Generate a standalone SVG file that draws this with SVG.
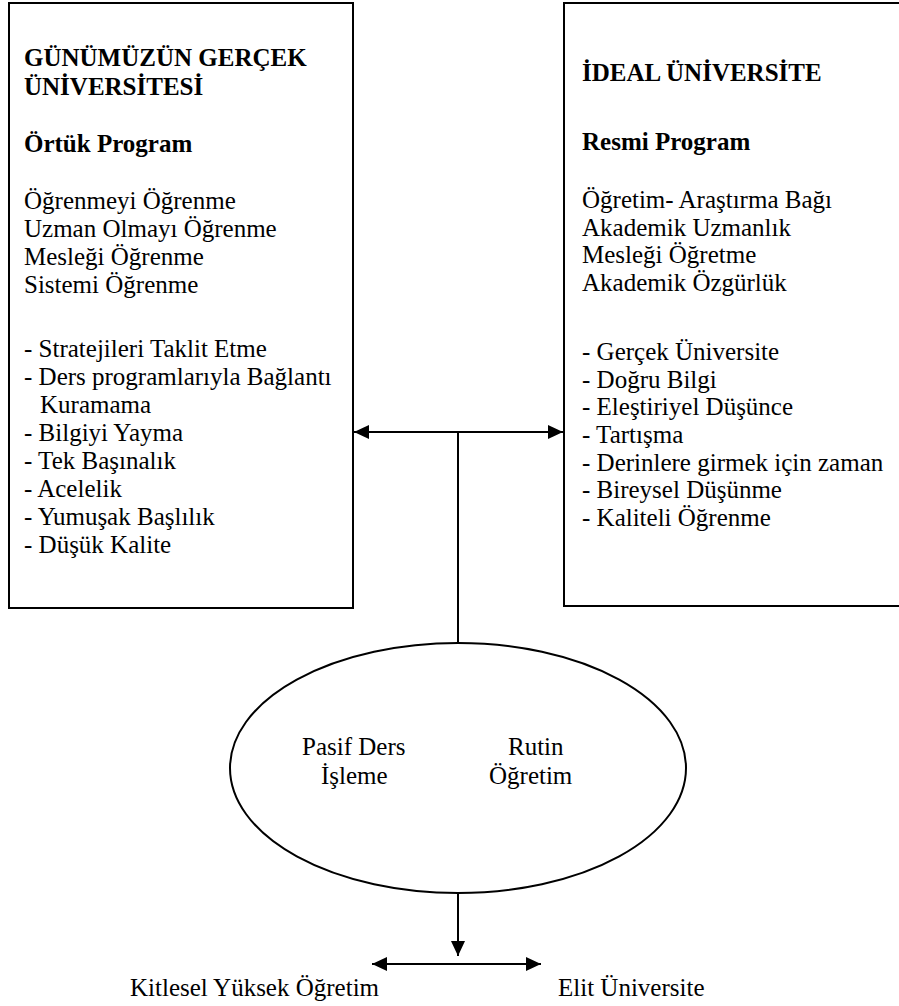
<svg xmlns="http://www.w3.org/2000/svg" width="899" height="1006" viewBox="0 0 899 1006">
<defs>
<style>
.t{font-family:"Liberation Serif","Times New Roman",serif;font-size:25px;fill:#000}
.b{font-weight:bold}
.box{fill:#fff;stroke:#000;stroke-width:2}
.ln{fill:none;stroke:#000;stroke-width:2}
</style>
<marker id="ah" markerUnits="userSpaceOnUse" markerWidth="16" markerHeight="14" refX="15" refY="7" orient="auto-start-reverse">
<path d="M0,0 L15,7 L0,14 z" fill="#000"/>
</marker>
</defs>
<rect width="899" height="1006" fill="#fff"/>
<g id="real-university">
<rect class="box" x="9" y="3" width="344" height="605"/>
<text class="t b" x="24" y="66">GÜNÜMÜZÜN GERÇEK</text>
<text class="t b" x="24" y="95">ÜNİVERSİTESİ</text>
<text class="t b" x="24" y="152">Örtük Program</text>
<text class="t" x="24" y="209">Öğrenmeyi Öğrenme</text>
<text class="t" x="24" y="237">Uzman Olmayı Öğrenme</text>
<text class="t" x="24" y="265">Mesleği Öğrenme</text>
<text class="t" x="24" y="293">Sistemi Öğrenme</text>
<text class="t" x="24" y="357">- Stratejileri Taklit Etme</text>
<text class="t" x="24" y="385">- Ders programlarıyla Bağlantı</text>
<text class="t" x="40" y="413">Kuramama</text>
<text class="t" x="24" y="441">- Bilgiyi Yayma</text>
<text class="t" x="24" y="469">- Tek Başınalık</text>
<text class="t" x="24" y="497">- Acelelik</text>
<text class="t" x="24" y="525">- Yumuşak Başlılık</text>
<text class="t" x="24" y="553">- Düşük Kalite</text>
</g>
<g id="ideal-university">
<rect class="box" x="564" y="3" width="360" height="603"/>
<text class="t b" x="582" y="81">İDEAL ÜNİVERSİTE</text>
<text class="t b" x="582" y="150">Resmi Program</text>
<text class="t" x="582" y="208">Öğretim- Araştırma Bağı</text>
<text class="t" x="582" y="236">Akademik Uzmanlık</text>
<text class="t" x="582" y="263">Mesleği Öğretme</text>
<text class="t" x="582" y="291">Akademik Özgürlük</text>
<text class="t" x="582" y="360">- Gerçek Üniversite</text>
<text class="t" x="582" y="388">- Doğru Bilgi</text>
<text class="t" x="582" y="415">- Eleştiriyel Düşünce</text>
<text class="t" x="582" y="443">- Tartışma</text>
<text class="t" x="582" y="471">- Derinlere girmek için zaman</text>
<text class="t" x="582" y="498">- Bireysel Düşünme</text>
<text class="t" x="582" y="526">- Kaliteli Öğrenme</text>
</g>
<g id="teaching">
<ellipse class="ln" cx="458" cy="768" rx="228" ry="125"/>
<text class="t" x="302" y="755">Pasif Ders</text>
<text class="t" x="321" y="784">İşleme</text>
<text class="t" x="508" y="755">Rutin</text>
<text class="t" x="489" y="784">Öğretim</text>
</g>
<g id="mass-education">
<text class="t" x="130" y="996">Kitlesel Yüksek Öğretim</text>
</g>
<g id="elite-university">
<text class="t" x="558" y="996">Elit Üniversite</text>
</g>
<g id="connectors">
<line class="ln" x1="354" y1="432" x2="563" y2="432" marker-start="url(#ah)" marker-end="url(#ah)"/>
<line class="ln" x1="458" y1="432" x2="458" y2="643"/>
<line class="ln" x1="458" y1="893" x2="458" y2="956" marker-end="url(#ah)"/>
<line class="ln" x1="372" y1="964" x2="541" y2="964" marker-start="url(#ah)" marker-end="url(#ah)"/>
</g>
</svg>
